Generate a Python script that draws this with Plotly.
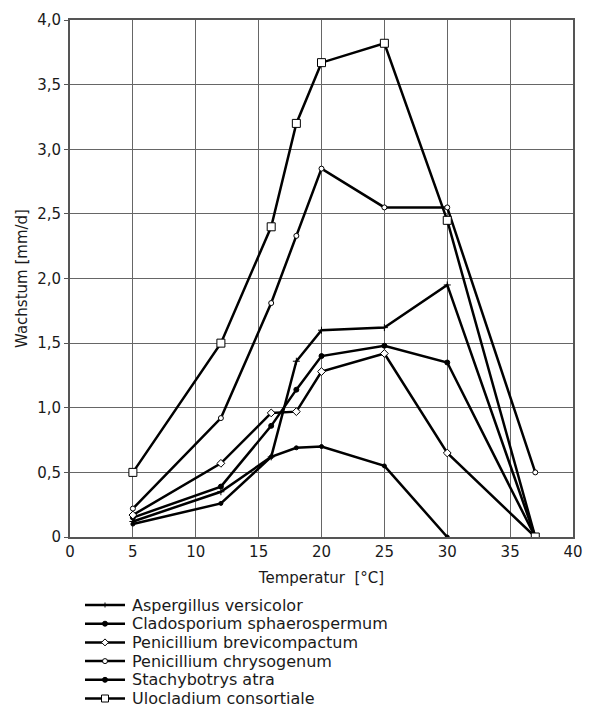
import plotly.graph_objects as go

# Temperature steps (°C)
temps = [5, 12, 16, 18, 20, 25, 30, 37]

# Growth rates (mm/d) per species
aspergillus = [0.12, 0.35, 0.62, 1.36, 1.60, 1.62, 1.95, 0.0]
cladosporium = [0.15, 0.39, 0.86, 1.14, 1.40, 1.48, 1.35, 0.0]
pen_brevi = [0.17, 0.57, 0.96, 0.97, 1.28, 1.42, 0.65, 0.0]
pen_chryso = [0.22, 0.92, 1.81, 2.33, 2.85, 2.55, 2.55, 0.50]
stachybotrys = [0.10, 0.26, 0.62, 0.69, 0.70, 0.55, 0.0]
ulocladium = [0.50, 1.50, 2.40, 3.20, 3.67, 3.82, 2.45, 0.0]

names = [
    "Aspergillus versicolor",
    "Cladosporium sphaerospermum",
    "Penicillium brevicompactum",
    "Penicillium chrysogenum",
    "Stachybotrys atra",
    "Ulocladium consortiale",
]
series = [aspergillus, cladosporium, pen_brevi, pen_chryso, stachybotrys, ulocladium]

y_tickvals = [0, 0.5, 1.0, 1.5, 2.0, 2.5, 3.0, 3.5, 4.0]
y_ticktext = ["0", "0,5", "1,0", "1,5", "2,0", "2,5", "3,0", "3,5", "4,0"]
x_tickvals = [0, 5, 10, 15, 20, 25, 30, 35, 40]
x_ticktext = ["0", "5", "10", "15", "20", "25", "30", "35", "40"]

# (symbol, size, fill) per species
marker_styles = [
    ("cross-thin", 5, "black"),
    ("circle", 5, "black"),
    ("diamond", 6, "white"),
    ("circle", 5, "white"),
    ("circle", 4, "black"),
    ("square", 8, "white"),
]

W, H = 599, 713
ML, MR, MT, MB = 70, 26, 20, 176
PW, PH = W - ML - MR, H - MT - MB

fig = go.Figure()
for name, vals, (sym, size, fill) in zip(names, series, marker_styles):
    fig.add_trace(go.Scatter(
        x=temps[:len(vals)], y=vals, name=name, mode="lines+markers",
        line=dict(color="black", width=2.5),
        marker=dict(symbol=sym, size=size, color=fill,
                    line=dict(color="black", width=1)),
        showlegend=False,
    ))


def px_to_paper(px, py):
    return (px - ML) / PW, (H - MB - py) / PH


# Legend block below the chart: sample line with marker, then the name
font_family = "DejaVu Sans, Verdana, sans-serif"
row0, row_step = 605, 18.7
for i, (name, (sym, size, fill)) in enumerate(zip(names, marker_styles)):
    py = row0 + i * row_step
    x0, y = px_to_paper(85, py)
    x1, _ = px_to_paper(125, py)
    xm, _ = px_to_paper(105, py)
    fig.add_shape(type="line", xref="paper", yref="paper",
                  x0=x0, x1=x1, y0=y, y1=y,
                  line=dict(color="black", width=2.5))
    r = 2.5 if size <= 5 else 3.5
    common = dict(xref="paper", yref="paper", xsizemode="pixel",
                  ysizemode="pixel", xanchor=xm, yanchor=y,
                  fillcolor=fill, line=dict(color="black", width=1))
    if sym == "square":
        fig.add_shape(type="rect", x0=-r, x1=r, y0=-r, y1=r, **common)
    elif sym == "diamond":
        fig.add_shape(type="path",
                      path=f"M 0 {-r} L {r} 0 L 0 {r} L {-r} 0 Z", **common)
    elif sym == "cross-thin":
        fig.add_shape(type="path", path="M 0 -2.5 L 0 2.5", **common)
    else:
        fig.add_shape(type="circle", x0=-r, x1=r, y0=-r, y1=r, **common)
    tx, _ = px_to_paper(130, py)
    fig.add_annotation(xref="paper", yref="paper", x=tx, y=y,
                       xanchor="left", yanchor="middle", showarrow=False,
                       text=name, font=dict(size=16, color="#1a1a1a"))

fig.update_layout(
    width=W, height=H,
    margin=dict(l=ML, r=MR, t=MT, b=MB),
    paper_bgcolor="white", plot_bgcolor="white",
    font=dict(family=font_family, size=15, color="#1a1a1a"),
    showlegend=False,
)
fig.update_xaxes(
    range=[0, 40], tickvals=x_tickvals, ticktext=x_ticktext,
    showgrid=True, gridcolor="#666", gridwidth=1.2,
    showline=True, linecolor="#555", linewidth=2, mirror=True,
    ticks="", zeroline=False, automargin=False,
    title=dict(text="Temperatur  [°C]", standoff=12, font=dict(size=15)),
)
fig.update_yaxes(
    range=[0, 4], tickvals=y_tickvals, ticktext=y_ticktext,
    showgrid=True, gridcolor="#666", gridwidth=1.2,
    showline=True, linecolor="#555", linewidth=2, mirror=True,
    ticks="outside", ticklen=4, tickcolor="#555", zeroline=False,
    automargin=False,
    title=dict(text="Wachstum [mm/d]", standoff=6, font=dict(size=15)),
)

fig.write_html("out.html")
